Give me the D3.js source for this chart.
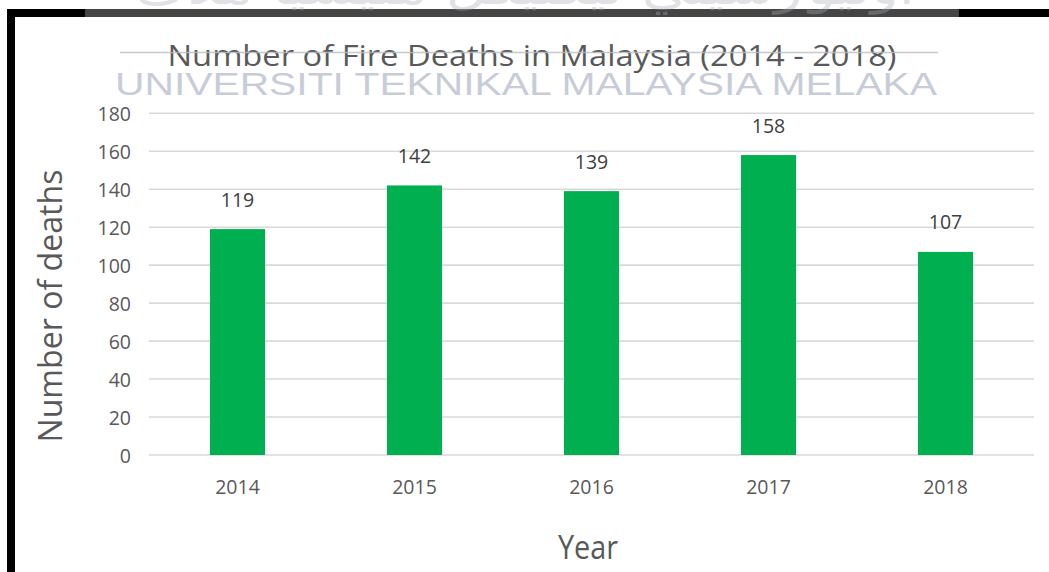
<!DOCTYPE html>
<html>
<head>
<meta charset="utf-8">
<script src="https://cdn.jsdelivr.net/npm/d3@7"></script>
<style>
  html, body { margin: 0; padding: 0; background: #ffffff; }
  svg { display: block; }
</style>
</head>
<body>
<div id="chart"></div>
<script>
// ---- data ----
const years = ["2014", "2015", "2016", "2017", "2018"];
const deaths = [119, 142, 139, 158, 107];
const yTicks = [0, 20, 40, 60, 80, 100, 120, 140, 160, 180];
const titleText = "Number of Fire Deaths in Malaysia (2014 - 2018)";
const xTitle = "Year";
const yTitle = "Number of deaths";
const watermarkText = "UNIVERSITI TEKNIKAL MALAYSIA MELAKA";
const watermarkJawi = "اونيۏرسيتي تيكنيكل مليسيا ملاک";

const W = 1049, H = 572;
const svg = d3.select("#chart").append("svg").attr("width", W).attr("height", H);
svg.append("rect").attr("width", W).attr("height", H).attr("fill", "#ffffff");

const font = "'Open Sans', 'DejaVu Sans', sans-serif";

const x = d3.scaleBand().domain(years).range([149, 1034])
  .paddingInner(0.689).paddingOuter(0.3445);
const y = d3.scaleLinear().domain([0, 180]).range([455, 113.3]);

// gridlines
svg.append("g").selectAll("line").data(yTicks).join("line")
  .attr("x1", 149).attr("x2", 1034)
  .attr("y1", d => y(d)).attr("y2", d => y(d))
  .attr("stroke", "#d9d9d9").attr("stroke-width", 1.6);

// y axis labels
const yAxis = svg.append("g").attr("transform", "translate(131,0)")
  .call(d3.axisLeft(y).tickValues(yTicks).tickSize(0).tickPadding(0));
yAxis.select(".domain").remove();
yAxis.selectAll("text").attr("font-family", font).attr("font-size", 19.5)
  .attr("fill", "#595959").attr("dy", "0.36em");

// x axis labels
const xAxis = svg.append("g").attr("transform", "translate(0,455)")
  .call(d3.axisBottom(x).tickSize(0).tickPadding(0));
xAxis.select(".domain").remove();
xAxis.selectAll("text").attr("font-family", font).attr("font-size", 19.5)
  .attr("fill", "#595959").attr("dy", 0).attr("y", 39);

// bars
svg.append("g").selectAll("rect").data(deaths).join("rect")
  .attr("x", (d, i) => x(years[i]))
  .attr("width", x.bandwidth())
  .attr("y", d => y(d))
  .attr("height", d => y(0) - y(d))
  .attr("fill", "#00b050");

// data labels
svg.append("g").selectAll("text").data(deaths).join("text")
  .attr("x", (d, i) => x(years[i]) + x.bandwidth() / 2)
  .attr("y", d => y(d) - 22.5)
  .attr("text-anchor", "middle")
  .attr("font-family", font).attr("font-size", 19.5)
  .attr("fill", "#404040")
  .text(d => d);

// title
svg.append("text").attr("x", 532).attr("y", 66).attr("text-anchor", "middle")
  .attr("font-family", font).attr("font-size", 29).attr("fill", "#595959")
  .attr("textLength", 729).attr("lengthAdjust", "spacingAndGlyphs")
  .text(titleText);

// axis titles
svg.append("text").attr("x", 588).attr("y", 559).attr("text-anchor", "middle")
  .attr("font-family", font).attr("font-size", 32).attr("fill", "#595959")
  .attr("textLength", 60).attr("lengthAdjust", "spacingAndGlyphs")
  .text(xTitle);

svg.append("text").attr("transform", "translate(62,306) rotate(-90)")
  .attr("text-anchor", "middle")
  .attr("font-family", font).attr("font-size", 32).attr("fill", "#595959")
  .attr("textLength", 273).attr("lengthAdjust", "spacingAndGlyphs")
  .text(yTitle);

// frame (black border of the screenshot)
svg.append("rect").attr("x", 7).attr("y", 9).attr("width", W - 7).attr("height", 8).attr("fill", "#000");
svg.append("rect").attr("x", 7).attr("y", 9).attr("width", 8).attr("height", H - 9).attr("fill", "#000");

// watermark overlay
const wm = svg.append("g");
wm.append("rect").attr("x", 85).attr("y", 9).attr("width", 874).attr("height", 8)
  .attr("fill", "#ffffff").attr("opacity", 0.27);
wm.append("text").attr("x", 525).attr("y", 4).attr("text-anchor", "middle")
  .attr("font-family", "'DejaVu Sans', sans-serif").attr("font-size", 44)
  .attr("fill", "#a8adb6").attr("opacity", 0.35)
  .attr("textLength", 780).attr("lengthAdjust", "spacingAndGlyphs")
  .text(watermarkJawi);
wm.append("line").attr("x1", 120).attr("x2", 938).attr("y1", 52.5).attr("y2", 52.5)
  .attr("stroke", "#b8bcc4").attr("stroke-width", 1.6).attr("opacity", 0.8);
wm.append("text").attr("x", 526).attr("y", 95).attr("text-anchor", "middle")
  .attr("font-family", "'Liberation Sans', Arial, sans-serif").attr("font-size", 30.5)
  .attr("fill", "#c7ccd7")
  .attr("textLength", 822).attr("lengthAdjust", "spacingAndGlyphs")
  .text(watermarkText);
</script>
</body>
</html>
